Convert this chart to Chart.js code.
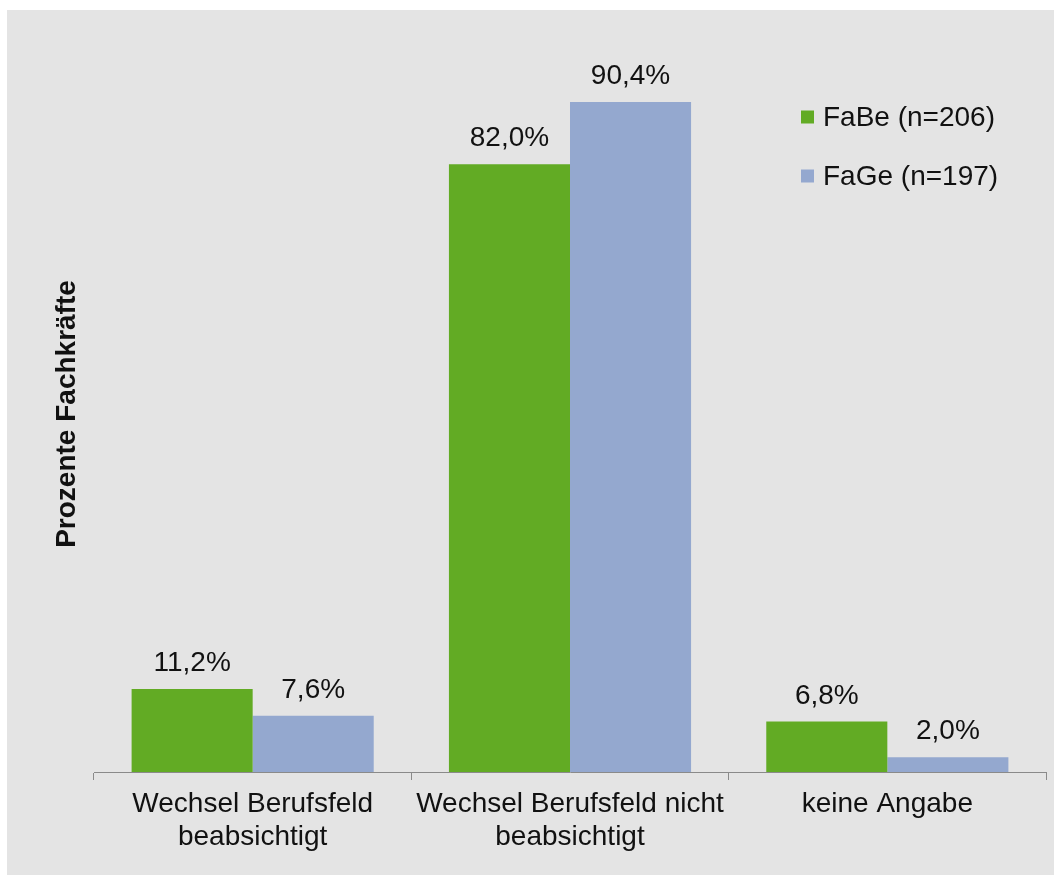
<!DOCTYPE html>
<html>
<head>
<meta charset="utf-8">
<script src="https://cdn.jsdelivr.net/npm/chart.js@4.4.1/dist/chart.umd.min.js"></script>
<style>
html,body{margin:0;padding:0;background:#fff;}
canvas{display:block;}
</style>
</head>
<body>
<canvas id="c" width="1054" height="875"></canvas>
<script>
const categories = [
  ['Wechsel Berufsfeld', 'beabsichtigt'],
  ['Wechsel Berufsfeld nicht', 'beabsichtigt'],
  'keine Angabe'
];
const seriesNames = ['FaBe (n=206)', 'FaGe (n=197)'];
const fabeValues = [11.2, 82.0, 6.8];
const fageValues = [7.6, 90.4, 2.0];
const seriesColors = ['#62ab24', '#94a8cf'];
const axisTitle = 'Prozente Fachkräfte';

const FONT = "'Liberation Sans', Arial, sans-serif";
const TEXT = '#111111';

const bgPlugin = {
  id: 'bg',
  beforeDraw(chart) {
    const ctx = chart.ctx;
    ctx.save();
    ctx.fillStyle = '#ffffff';
    ctx.fillRect(0, 0, chart.width, chart.height);
    ctx.fillStyle = '#e4e4e4';
    ctx.fillRect(7, 10, chart.width - 7, chart.height - 10);
    ctx.restore();
  }
};

const labelPlugin = {
  id: 'vlabels',
  afterDatasetsDraw(chart) {
    const ctx = chart.ctx;
    ctx.save();
    ctx.font = '28px ' + FONT;
    ctx.fillStyle = TEXT;
    ctx.textAlign = 'center';
    ctx.textBaseline = 'alphabetic';
    chart.data.datasets.forEach((ds, di) => {
      const meta = chart.getDatasetMeta(di);
      meta.data.forEach((el, i) => {
        const v = ds.data[i];
        const txt = v.toFixed(1).replace('.', ',') + '%';
        ctx.fillText(txt, el.x, el.y - 18);
      });
    });
    ctx.restore();
  }
};

const legendPlugin = {
  id: 'customLegend',
  afterDraw(chart) {
    const ctx = chart.ctx;
    ctx.save();
    ctx.font = '28px ' + FONT;
    ctx.textBaseline = 'middle';
    ctx.textAlign = 'left';
    const rows = [117, 176];
    chart.data.datasets.forEach((ds, di) => {
      const cy = rows[di];
      ctx.fillStyle = ds.backgroundColor;
      ctx.fillRect(801, cy - 6.5, 13, 13);
      ctx.fillStyle = TEXT;
      ctx.fillText(ds.label, 823, cy + 1);
    });
    ctx.restore();
  }
};

new Chart(document.getElementById('c'), {
  type: 'bar',
  data: {
    labels: categories,
    datasets: [
      { label: seriesNames[0], data: fabeValues, backgroundColor: seriesColors[0], borderWidth: 0 },
      { label: seriesNames[1], data: fageValues, backgroundColor: seriesColors[1], borderWidth: 0 }
    ]
  },
  options: {
    responsive: false,
    animation: false,
    devicePixelRatio: 1,
    layout: { padding: { left: 0, top: 56, right: 8, bottom: 0 } },
    datasets: { bar: { categoryPercentage: 0.763, barPercentage: 1.0 } },
    plugins: {
      legend: { display: false },
      tooltip: { enabled: false },
      title: { display: false }
    },
    scales: {
      x: {
        grid: { display: true, drawOnChartArea: false, drawTicks: true, tickLength: 8, color: '#8a8a8a', lineWidth: 1, offset: true },
        border: { display: true, color: '#8a8a8a', width: 1 },
        ticks: {
          color: TEXT,
          font: { family: FONT, size: 28, lineHeight: 1.18 },
          padding: 8,
          maxRotation: 0,
          autoSkip: false
        },
        afterFit(scale) { scale.height = 103; }
      },
      y: {
        min: 0,
        max: 96.6,
        grid: { display: false },
        border: { display: false },
        ticks: { display: false },
        title: {
          display: true,
          text: axisTitle,
          color: TEXT,
          font: { family: FONT, size: 28, weight: 'bold', lineHeight: 1.2 },
          padding: { top: 50.5, bottom: 0 }
        },
        afterFit(scale) { scale.width = 94; }
      }
    }
  },
  plugins: [bgPlugin, labelPlugin, legendPlugin]
});
</script>
</body>
</html>
